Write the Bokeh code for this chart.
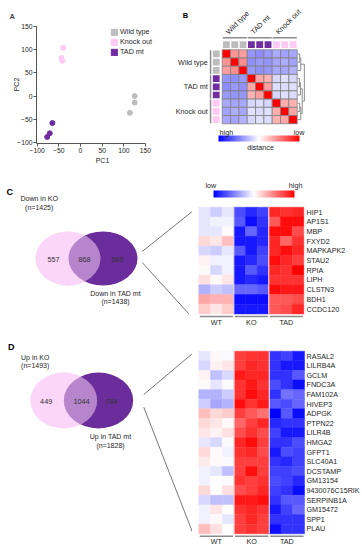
import numpy as np
from bokeh.plotting import figure
from bokeh.layouts import row, column
from bokeh.models import (Range1d, ColumnDataSource, LinearColorMapper, ColorBar,
                          Legend, LegendItem, FixedTicker)
from bokeh.transform import transform
from bokeh.core.properties import value
from bokeh.embed import file_html
from bokeh.resources import INLINE

FONT = "Liberation Sans"
TXT = "#262626"

# ---------------- data ----------------
# Panel A : PCA
pca_labels = ["Wild type", "Knock out", "TAD mt"]
wt_pc1 = [125, 125, 114]
wt_pc2 = [0, -14, -36]
ko_pc1 = [-40, -44, -42]
ko_pc2 = [104, 82, 76]
tad_pc1 = [-65, -71, -77]
tad_pc2 = [-58, -80, -88]
pc_ticks = [-100, -50, 0, 50, 100, 150]

# Panel B : sample-to-sample similarity (red = low distance)
b_groups = ["Wild type", "TAD mt", "Knock out"]
b_sample_group = [0, 0, 0, 1, 1, 1, 2, 2, 2]
b_similarity = [
    [1.00, 0.42, 0.38, -0.42, -0.45, -0.40, -0.33, -0.36, -0.34],
    [0.42, 1.00, 0.45, -0.44, -0.40, -0.42, -0.35, -0.32, -0.36],
    [0.38, 0.45, 1.00, -0.40, -0.43, -0.41, -0.34, -0.35, -0.30],
    [-0.42, -0.44, -0.40, 1.00, 0.35, 0.30, -0.15, -0.12, -0.16],
    [-0.45, -0.40, -0.43, 0.35, 1.00, 0.38, -0.13, -0.14, -0.12],
    [-0.40, -0.42, -0.41, 0.30, 0.38, 1.00, -0.16, -0.12, -0.14],
    [-0.33, -0.35, -0.34, -0.15, -0.13, -0.16, 1.00, 0.32, 0.30],
    [-0.36, -0.32, -0.35, -0.12, -0.14, -0.12, 0.32, 1.00, 0.35],
    [-0.34, -0.36, -0.30, -0.16, -0.12, -0.14, 0.30, 0.35, 1.00],
]
# dendrogram merges (child a, child b, height)
b_merges = [(0, 1, 0.30), (9, 2, 0.45), (3, 4, 0.25), (11, 5, 0.40),
            (6, 7, 0.30), (13, 8, 0.45), (12, 14, 0.65), (10, 15, 0.95)]

# Panels C / D : heatmaps (columns WT x3, KO x3, TAD x3)
hm_groups = ["WT", "KO", "TAD"]
c_genes = ["HIP1", "AP1S1", "MBP", "FXYD2", "MAPKAPK2", "STAU2", "RPIA", "LIPH",
           "CLSTN3", "BDH1", "CCDC120"]
c_values = [
    [-0.10, -0.20, -0.10, -0.70, -0.85, -0.75, 0.85, 0.80, 0.85],
    [-0.10, -0.05, -0.05, -0.65, -0.95, -0.80, 0.65, 0.95, 0.95],
    [-0.10, -0.10, 0.02, -0.90, -0.60, -0.85, 0.95, 0.95, 0.70],
    [0.15, 0.10, 0.25, -0.90, -0.90, -0.85, 0.85, 0.60, 0.80],
    [-0.15, -0.20, -0.10, -0.65, -0.90, -0.75, 0.85, 0.95, 0.85],
    [0.05, -0.05, -0.05, -0.90, -0.85, -0.70, 0.95, 0.85, 0.75],
    [0.02, -0.15, -0.05, -0.90, -0.65, -0.80, 0.85, 0.80, 1.00],
    [0.12, 0.03, 0.10, -0.90, -0.85, -0.90, 0.80, 0.80, 0.80],
    [-0.30, -0.20, -0.25, -0.60, -0.60, -0.65, 0.95, 0.90, 0.90],
    [0.35, 0.30, 0.30, -0.95, -0.95, -0.95, 0.65, 0.65, 0.70],
    [0.20, 0.10, 0.20, -0.90, -0.90, -0.90, 0.65, 0.70, 0.85],
]
d_genes = ["RASAL2", "LILRB4A", "GCLM", "FNDC3A", "FAM102A", "HIVEP3", "ADPGK",
           "PTPN22", "LILR4B", "HMGA2", "GFPT1", "SLC40A1", "DCSTAMP", "GM13154",
           "9430076C15RIK", "SERPINB1A", "GM15472", "SPP1", "PLAU"]
d_values = [
    [-0.10, 0.03, -0.02, 0.75, 0.80, 0.80, -0.80, -0.75, -0.90],
    [-0.15, 0.05, 0.10, 0.75, 0.85, 0.80, -0.80, -0.90, -0.90],
    [0.05, -0.25, -0.15, 0.90, 0.85, 0.85, -0.80, -0.80, -0.65],
    [0.02, -0.10, -0.02, 0.80, 0.90, 0.80, -0.70, -0.80, -0.95],
    [-0.30, -0.30, -0.20, 0.80, 0.95, 0.85, -0.80, -0.55, -0.60],
    [-0.20, -0.35, -0.30, 0.95, 0.80, 0.90, -0.65, -0.70, -0.60],
    [0.25, 0.15, 0.20, 0.75, 0.65, 0.55, -1.00, -0.65, -0.95],
    [0.15, 0.10, 0.02, 0.60, 0.75, 0.85, -0.85, -0.80, -0.80],
    [0.10, 0.05, 0.12, 0.70, 0.80, 0.70, -0.75, -0.90, -0.90],
    [-0.10, -0.15, -0.02, 0.85, 0.95, 0.75, -0.80, -0.80, -0.70],
    [0.15, 0.02, -0.05, 0.80, 0.85, 0.70, -0.90, -0.70, -0.75],
    [0.08, 0.02, -0.02, 0.75, 0.75, 0.75, -0.80, -0.85, -0.75],
    [-0.05, -0.10, -0.25, 0.75, 0.95, 0.75, -0.75, -0.75, -0.70],
    [-0.05, 0.00, -0.02, 0.80, 0.75, 0.80, -0.70, -0.75, -0.85],
    [0.15, 0.00, 0.12, 0.70, 0.75, 0.85, -0.75, -0.80, -0.95],
    [-0.15, -0.25, -0.25, 0.90, 0.90, 0.95, -0.80, -0.65, -0.65],
    [-0.05, 0.10, 0.00, 0.80, 0.85, 0.80, -0.90, -0.75, -0.60],
    [-0.05, 0.02, -0.10, 0.75, 0.85, 0.75, -0.80, -0.80, -0.80],
    [0.25, 0.12, 0.00, 0.75, 0.80, 0.75, -0.95, -0.80, -0.80],
]

# Venn diagrams
venn_c_counts = [557, 868, 569]
venn_c_sets = ["Down in KO", "Down in TAD mt"]
venn_c_n = [1425, 1438]
venn_d_counts = [449, 1044, 784]
venn_d_sets = ["Up in KO", "Up in TAD mt"]
venn_d_n = [1493, 1828]

# ---------------- styles ----------------
WT_C, KO_C, TAD_C = "#bdbdbd", "#ffc9f3", "#6f2da0"
GROUP_COLORS_B = [WT_C, TAD_C, KO_C]
PINK, PURPLE = "#fcd6f8", "#6b2d9b"


def bwr(n=256):
    cols = []
    for i in range(n):
        t = i / (n - 1)
        if t < 0.5:
            s = t / 0.5
            r, g, b = 255 * s, 255 * s, 255
        else:
            s = (t - 0.5) / 0.5
            r, g, b = 255, 255 * (1 - s), 255 * (1 - s)
        cols.append("#%02x%02x%02x" % (int(round(r)), int(round(g)), int(round(b))))
    return cols


PAL = bwr()
mapper = LinearColorMapper(palette=PAL, low=-1, high=1)


def tstyle(size="7.2px", color=TXT, **kw):
    d = dict(text_font=value(FONT), text_font_size=size, text_color=color)
    d.update(kw)
    return d


def blank(width, height, xr, yr, **borders):
    b = dict(min_border=0)
    b.update(borders)
    p = figure(width=width, height=height, x_range=xr, y_range=yr, title=None,
               x_axis_type=None, y_axis_type=None,
               output_backend="svg", toolbar_location=None, **b)
    p.outline_line_color = None
    p.grid.visible = False
    return p


# ---------------- Panel A ----------------
A_TOP, A_BOTTOM = 25, 23
pA = figure(width=172, height=166, x_range=Range1d(-101.6, 203.1), y_range=Range1d(-102, 152),
            output_backend="svg", toolbar_location=None, title="A",
            min_border_left=36, min_border_right=4, min_border_top=A_TOP, min_border_bottom=A_BOTTOM)
pA.title.text_font = FONT
pA.title.text_font_size = "7.5px"
pA.title.text_font_style = "bold"
pA.title.align = "left"
pA.title.offset = -27
pA.title.standoff = 9
pA.outline_line_color = None
pA.grid.visible = False
for ax, lab in ((pA.xaxis[0], "PC1"), (pA.yaxis[0], "PC2")):
    ax.ticker = FixedTicker(ticks=pc_ticks)
    ax.axis_label = lab
    ax.axis_label_text_font = FONT
    ax.axis_label_text_font_size = "7px"
    ax.axis_label_text_font_style = "normal"
    ax.axis_label_text_color = TXT
    ax.axis_label_standoff = 1
    ax.major_label_text_font = FONT
    ax.major_label_text_font_size = "6.8px"
    ax.major_label_text_color = TXT
    ax.major_label_standoff = 1
    ax.axis_line_color = "#555555"
    ax.major_tick_line_color = "#555555"
    ax.major_tick_in = 0
    ax.major_tick_out = 3
    ax.minor_tick_line_color = None
pA.xaxis[0].bounds = (-101.6, 150)
pA.yaxis[0].bounds = (-102, 150)
pA.yaxis[0].axis_label_standoff = -6

groups_a = [(wt_pc1, wt_pc2, WT_C), (ko_pc1, ko_pc2, KO_C), (tad_pc1, tad_pc2, TAD_C)]
items = []
for lab, (xs, ys, col) in zip(pca_labels, groups_a):
    pA.scatter(xs, ys, size=5, color=col)
    # square swatch for the legend (same points, hidden on the plot)
    sw = pA.rect(x=xs, y=ys, width=1, height=1, color=col, visible=False)
    items.append(LegendItem(label=lab, renderers=[sw]))
legA = Legend(items=items, location=(74, 87), glyph_width=8, glyph_height=8,
              label_height=9, spacing=1, padding=0, margin=0, label_standoff=2,
              label_text_font=FONT, label_text_font_size="7.2px", label_text_color=TXT,
              border_line_color=None, background_fill_alpha=0)
pA.add_layout(legA)

# ---------------- Panel B ----------------
# frame spans the same rows as panel A's frame (plots in a row share borders)
pB = blank(190, 166, Range1d(-5.97, 16.84), Range1d(11.4, -2.955),
           min_border_top=A_TOP, min_border_bottom=A_BOTTOM)
nb = len(b_similarity)
bx, by, bv = [], [], []
for i in range(nb):
    for j in range(nb):
        bx.append(j + 0.5)
        by.append(i + 0.5)
        bv.append(b_similarity[i][j])
pB.rect(x="x", y="y", width=1, height=1, source=ColumnDataSource(dict(x=bx, y=by, v=bv)),
        fill_color=transform("v", mapper), line_color="#808080", line_width=0.8)
ann_cols = [GROUP_COLORS_B[g] for g in b_sample_group]
pos = [k + 0.5 for k in range(nb)]
pB.rect(x=pos, y=[-0.62] * nb, width=0.82, height=0.82, fill_color=ann_cols, line_color=None)
pB.rect(x=[-0.72] * nb, y=pos, width=0.82, height=0.82, fill_color=ann_cols, line_color=None)
gs = [3 * g for g in range(len(b_groups))]
pB.segment(x0=[g + 0.05 for g in gs], x1=[g + 2.95 for g in gs], y0=[-1.46] * 3, y1=[-1.46] * 3,
           line_color="#8c8c8c", line_width=1.5)
pB.segment(x0=[-1.4] * 3, x1=[-1.4] * 3, y0=[g + 0.05 for g in gs], y1=[g + 2.95 for g in gs],
           line_color="#8c8c8c", line_width=1.5)
pB.text(x=[g + 0.95 for g in gs], y=[-1.65] * 3, text=b_groups, angle=np.pi / 4,
        text_align="left", text_baseline="bottom", level="overlay", **tstyle())
pB.text(x=[-1.75] * 3, y=[g + 1.5 for g in gs], text=b_groups,
        text_align="right", text_baseline="middle", level="overlay", **tstyle())
# dendrogram
node_y = {k: k + 0.5 for k in range(nb)}
node_x = {k: 9.05 for k in range(nb)}
dxs, dys = [], []
for m, (a, b, h) in enumerate(b_merges):
    xh = 9.05 + h * 0.85
    dxs.append([node_x[a], xh, xh, node_x[b]])
    dys.append([node_y[a], node_y[a], node_y[b], node_y[b]])
    node_x[nb + m] = xh
    node_y[nb + m] = (node_y[a] + node_y[b]) / 2
pB.multi_line(dxs, dys, line_color="#8c8c8c", line_width=1)
cbB = ColorBar(color_mapper=mapper, orientation="horizontal", location=(46, 2), width=81, height=6,
               padding=0, margin=0, label_standoff=0, major_label_text_font_size="0px",
               major_tick_line_color=None, bar_line_color=None, border_line_color=None,
               background_fill_alpha=0, ticker=FixedTicker(ticks=[]))
pB.add_layout(cbB)
pB.text(x=[-0.32], y=[10.02], text=["high"], text_align="left", text_baseline="middle",
        level="overlay", **tstyle())
pB.text(x=[9.88], y=[10.02], text=["low"], text_align="right", text_baseline="middle",
        level="overlay", **tstyle())
pB.text(x=[4.6], y=[11.92], text=["distance"], text_align="center", text_baseline="middle",
        level="overlay", **tstyle())
pB.text(x=[-4.4], y=[-4.23], text=["B"], text_align="center", text_baseline="middle",
        level="overlay", **tstyle(size="7.5px", color="#000000", text_font_style="bold"))


# ---------------- heatmaps C / D ----------------
def heatmap(width, height, xr, yr, genes, values, label_x, line_y, cb=None):
    p = blank(width, height, xr, yr)
    hx, hy, hv = [], [], []
    for i, rowv in enumerate(values):
        for j, v in enumerate(rowv):
            hx.append(j + 0.5)
            hy.append(i + 0.5)
            hv.append(v)
    p.rect(x="x", y="y", width=1, height=1, source=ColumnDataSource(dict(x=hx, y=hy, v=hv)),
           fill_color=transform("v", mapper), line_color=transform("v", mapper), line_width=0.5)
    n = len(genes)
    p.segment(x0=[3, 6], x1=[3, 6], y0=[0, 0], y1=[n, n], line_color="#f4f4f4", line_width=1)
    p.text(x=[label_x] * n, y=[i + 0.5 for i in range(n)], text=genes,
           text_align="left", text_baseline="middle", **tstyle())
    p.segment(x0=[g + 0.08 for g in (0, 3, 6)], x1=[g + 2.92 for g in (0, 3, 6)],
              y0=[n + line_y] * 3, y1=[n + line_y] * 3, line_color="#8c8c8c", line_width=1.5)
    p.text(x=[g + 1.5 for g in (0, 3, 6)], y=[n + line_y + 0.12] * 3, text=hm_groups,
           text_align="center", text_baseline="top", **tstyle())
    if cb is not None:
        p.add_layout(ColorBar(color_mapper=mapper, orientation="horizontal", location=cb[0],
                              width=81, height=7, padding=0, margin=0, label_standoff=0,
                              major_label_text_font_size="0px", major_tick_line_color=None,
                              bar_line_color=None, border_line_color=None,
                              background_fill_alpha=0, ticker=FixedTicker(ticks=[])))
        p.text(x=[cb[1]], y=[cb[3]], text=["low"], text_align="left", text_baseline="middle", **tstyle())
        p.text(x=[cb[2]], y=[cb[3]], text=["high"], text_align="right", text_baseline="middle", **tstyle())
    return p


pHC = heatmap(170, 164, Range1d(-0.54, 14.03), Range1d(12.71, -4.2), c_genes, c_values,
              9.23, 0.27, cb=((21, 133), 0.57, 8.88, -2.2))
pHD = heatmap(170, 220, Range1d(-0.537, 13.94), Range1d(20.74, -2.154), d_genes, d_values,
              9.17, 0.25)


# ---------------- Venn diagrams ----------------
def venn(height, letter, letter_xy, cy, lx, lw, rx, rw, eh, counts, num_x, sets, ns,
         top_xy, bot_xy, lines):
    p = blank(192, height, Range1d(0, 192), Range1d(height, 0))
    p.ellipse(x=[lx], y=[cy], width=[lw], height=[eh], fill_color=PINK, line_color=None)
    p.ellipse(x=[rx], y=[cy], width=[rw], height=[eh], fill_color=PURPLE, line_color=None)
    p.ellipse(x=[lx], y=[cy], width=[lw], height=[eh], fill_color=PINK, fill_alpha=0.52, line_color=None)
    p.text(x=num_x, y=[cy + 0.5] * 3, text=[str(c) for c in counts],
           text_align="center", text_baseline="middle", **tstyle(size="7.3px", color="#333333"))
    p.text(x=[top_xy[0]] * 2, y=[top_xy[1], top_xy[1] + 8.7], text=[sets[0], "(n=%d)" % ns[0]],
           text_align="center", text_baseline="middle", **tstyle(size="7px"))
    p.text(x=[bot_xy[0]] * 2, y=[bot_xy[1], bot_xy[1] + 8.7], text=[sets[1], "(n=%d)" % ns[1]],
           text_align="center", text_baseline="middle", **tstyle(size="7px"))
    p.segment(x0=lines[0], y0=lines[1], x1=lines[2], y1=lines[3], line_color="#555555", line_width=0.8)
    p.text(x=[letter_xy[0]], y=[letter_xy[1]], text=[letter], text_align="center", text_baseline="middle",
           **tstyle(size="9px", color="#000000", text_font_style="bold"))
    return p


pVC = venn(164, "C", (9.2, 25.7), 92, 67.5, 65, 102.5, 69, 54, venn_c_counts, [53, 84, 117],
           venn_c_sets, venn_c_n, (38.7, 32.3), (115, 126.7),
           ([141.7, 141.7], [85, 96], [191.7, 188.3], [45, 147.3]))
pVD = venn(220, "D", (10.7, 16.7), 70, 63.3, 66.7, 98, 69.4, 56, venn_d_counts, [45.7, 81, 111],
           venn_d_sets, venn_d_n, (34.7, 26.7), (110, 106),
           ([143.3, 143.3], [64, 76.7], [191.7, 192], [23.3, 201.7]))

layout = column(row(pA, pB), row(pVC, pHC), row(pVD, pHD))
open("out.html", "w").write(file_html(layout, INLINE))
